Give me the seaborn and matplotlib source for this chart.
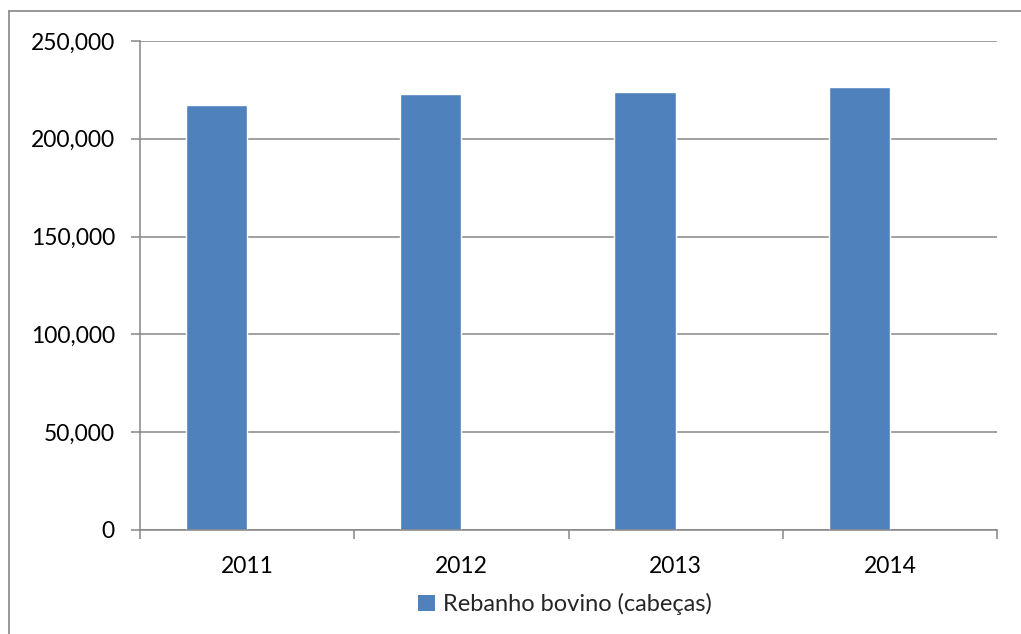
import matplotlib
matplotlib.use("Agg")
import matplotlib.pyplot as plt
import seaborn as sns
import pandas as pd
import numpy as np
from matplotlib.lines import Line2D
from matplotlib.patches import Patch
from matplotlib.ticker import FuncFormatter, FixedLocator

years = ["2011", "2012", "2013", "2014"]
rebanho = [217200, 222700, 223900, 226600]
series_name = "Rebanho bovino (cabeças)"
yticks = [0, 50000, 100000, 150000, 200000, 250000]

sns.set_theme(style="white")
plt.rcParams['font.family'] = ['Lato', 'DejaVu Sans']

df = pd.DataFrame({
    "ano": years + years,
    "valor": rebanho + [np.nan] * len(years),
    "serie": [series_name] * len(years) + [" "] * len(years),
})

fig = plt.figure(figsize=(10.21, 6.34), dpi=100)
ax = fig.add_axes([140/1021, 1-530/634, (997-140)/1021, (530-41)/634])

bar_color = "#4F81BD"
sns.barplot(data=df, x="ano", y="valor", hue="serie", order=years,
            hue_order=[series_name, " "], palette=[bar_color, bar_color],
            width=0.5714, dodge=True, ax=ax, legend=False, saturation=1)

grid_c = "#868686"
ax.set_xlim(-0.5, len(years) - 0.5)
ax.set_ylim(0, 250000)
ax.set_yticks(yticks)
ax.yaxis.set_major_formatter(FuncFormatter(lambda v, p: f"{int(v):,}"))
ax.set_axisbelow(True)
ax.yaxis.grid(True, color=grid_c, linewidth=1.1)
ax.xaxis.grid(False)

ax.xaxis.set_major_locator(FixedLocator([i - 0.5 for i in range(len(years) + 1)]))
ax.xaxis.set_major_formatter(FuncFormatter(lambda v, p: ""))
ax.xaxis.set_minor_locator(FixedLocator(list(range(len(years)))))
ax.set_xticklabels(years, minor=True)
ax.tick_params(axis="x", which="major", length=6.5, width=1.1, color=grid_c, direction="out", bottom=True)
ax.tick_params(axis="x", which="minor", length=0, pad=19, labelsize=16.5, labelcolor="black")
ax.tick_params(axis="y", length=6.5, width=1.1, color=grid_c, direction="out", left=True, labelsize=16.5, labelcolor="black", pad=11.5)

for s in ["top", "right"]:
    ax.spines[s].set_visible(False)
for s in ["left", "bottom"]:
    ax.spines[s].set_color(grid_c)
    ax.spines[s].set_linewidth(1.1)

ax.set_xlabel("")
ax.set_ylabel("")

handles = [Patch(facecolor=bar_color, edgecolor="none")]
fig.legend(handles, [series_name], loc="center", bbox_to_anchor=(565/1021, 1-604/634),
           frameon=False, fontsize=17, handlelength=0.7, handleheight=0.7,
           handletextpad=0.35)

fig.add_artist(Line2D([9/1021, 1], [1-11/634, 1-11/634], transform=fig.transFigure, color=grid_c, linewidth=1.2))
fig.add_artist(Line2D([9/1021, 9/1021], [0, 1-11/634], transform=fig.transFigure, color=grid_c, linewidth=1.2))

fig.savefig("out.png", dpi=100, facecolor="white")
